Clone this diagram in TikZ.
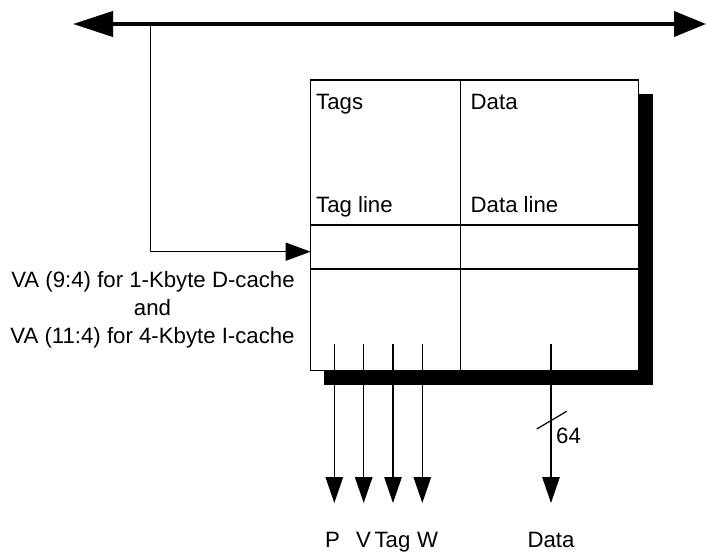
\documentclass[tikz,border=0pt]{standalone}
\usepackage{fontspec}
\setmainfont{Liberation Sans}
\usetikzlibrary{arrows.meta}
\begin{document}
\begin{tikzpicture}[x=1pt,y=-1pt,
  lbl/.style={inner sep=0pt, font=\fontsize{22.2}{26}\selectfont},
  thinline/.style={line width=1.2pt},
  downarrow/.style={thinline, -{Triangle[length=26pt,width=17.5pt]}},
  busline/.style={line width=4pt, {Triangle[length=40pt,width=25pt]}-{Triangle[length=32pt,width=25pt]}},
  feedarrow/.style={thinline, -{Triangle[length=25pt,width=18pt]}},
  shadowfill/.style={fill=black},
  cachebox/.style={draw, fill=white, thinline, inner sep=0pt, outer sep=0pt, anchor=north west,
                   minimum width=327.6pt, minimum height=290.7pt}
]
\useasboundingbox (0,0) rectangle (706,553);
% bus
\coordinate (busL) at (73,24);
\coordinate (busR) at (706,24);
\draw[busline] (busL) -- (busR);
% shadow and cache box
\fill[shadowfill] (324.3,94.3) rectangle (653.3,385.3);
\node[cachebox] (cache) at (310.7,80) {};
\coordinate (divT) at (460.3,80);
\draw[thinline] (divT) -- (divT |- cache.south);
\coordinate (r1L) at (310.7,225); \coordinate (r1R) at (638.3,225);
\coordinate (r2L) at (310.7,269); \coordinate (r2R) at (638.3,269);
\draw[thinline] (r1L) -- (r1R);
\draw[thinline] (r2L) -- (r2R);
% feed arrow
\coordinate (tap) at (150.7,24);
\coordinate (entry) at (310.7,251.7);
\draw[feedarrow] (tap) |- (entry);
% cell labels
\node[lbl, anchor=base west] (tags) at (316,110) {Tags};
\node[lbl, anchor=base west] (datahead) at (470.5,110) {Data};
\node[lbl, anchor=base west] (tagline) at (316,212.5) {Tag line};
\node[lbl, anchor=base west] (dataline) at (470.5,212.5) {Data line};
% address text
\node[lbl, anchor=base] (va1) at (153,287.5) {VA (9:4) for 1-Kbyte D-cache};
\node[lbl, anchor=base] (va2) at (152.5,315.5) {and};
\node[lbl, anchor=base] (va3) at (152.5,343.5) {VA (11:4) for 4-Kbyte I-cache};
% output arrows
\coordinate (pS) at (334.3,344);   \coordinate (pE) at (334.3,503);
\coordinate (vS) at (363.7,344);   \coordinate (vE) at (363.7,503);
\coordinate (tS) at (393,344);     \coordinate (tE) at (393,503);
\coordinate (wS) at (422.3,344);   \coordinate (wE) at (422.3,503);
\coordinate (dS) at (551,344);     \coordinate (dE) at (551,503);
\draw[downarrow] (pS) -- (pE);
\draw[downarrow] (vS) -- (vE);
\draw[downarrow] (tS) -- (tE);
\draw[downarrow] (wS) -- (wE);
\draw[downarrow] (dS) -- (dE);
% bus width slash
\coordinate (slA) at (536.7,429);
\coordinate (slB) at (566.7,411.3);
\draw[thinline] (slA) -- (slB);
\node[lbl, anchor=base west] (w64) at (556,443) {64};
% bottom labels
\node[lbl, anchor=base] (lP) at (332.5,547.5) {P};
\node[lbl, anchor=base] (lV) at (363.5,547.5) {V};
\node[lbl, anchor=base] (lTag) at (392.5,547.5) {Tag};
\node[lbl, anchor=base] (lW) at (427.5,547.5) {W};
\node[lbl, anchor=base] (lData) at (551,547.5) {Data};
\end{tikzpicture}
\end{document}
